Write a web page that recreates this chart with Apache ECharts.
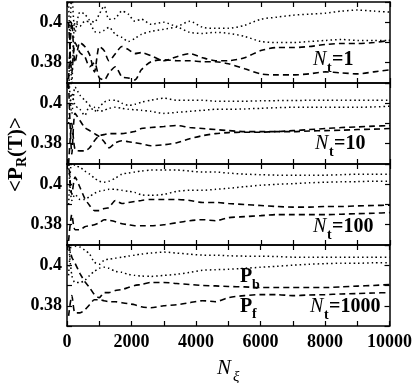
<!DOCTYPE html>
<html>
<head>
<meta charset="utf-8">
<script src="https://cdn.jsdelivr.net/npm/echarts@6/dist/echarts.min.js"></script>
<style>
  html, body { margin: 0; padding: 0; background: #fff; }
  #chart { width: 415px; height: 383px; }
</style>
</head>
<body>
<div id="chart"></div>
<script>
// N_xi sample positions shared by every curve
const X = [50, 150, 250, 400, 550, 700, 850, 1000, 1150, 1300, 1500, 1700, 1900, 2100, 2300, 2600,
  3000, 3400, 3800, 4200, 4600, 5000, 5500, 6000, 6500, 7000, 7500, 8000, 8500, 9000, 9500, 10000]

// Nt = 1
const nt1DotA = [0.36, 0.415, 0.395, 0.405, 0.404, 0.401, 0.400, 0.404, 0.408, 0.4015, 0.402, 0.4055, 0.404, 0.4005, 0.4015, 0.399,
  0.400, 0.398, 0.4005, 0.3975, 0.397, 0.397, 0.3985, 0.4015, 0.4025, 0.4035, 0.404, 0.4045, 0.4055, 0.406, 0.4055, 0.405]
const nt1DotB = [0.41, 0.37, 0.400, 0.398, 0.4005, 0.400, 0.3955, 0.395, 0.396, 0.3975, 0.394, 0.3925, 0.3905, 0.392, 0.394, 0.3955,
  0.3965, 0.3975, 0.395, 0.3945, 0.395, 0.3945, 0.393, 0.3905, 0.390, 0.390, 0.3905, 0.391, 0.3915, 0.391, 0.391, 0.391]
const nt1DashA = [0.372, 0.40, 0.38, 0.390, 0.388, 0.384, 0.3755, 0.388, 0.386, 0.381, 0.3845, 0.388, 0.3865, 0.3845, 0.385, 0.3835,
  0.381, 0.383, 0.3845, 0.3825, 0.381, 0.381, 0.3825, 0.386, 0.3875, 0.3875, 0.388, 0.389, 0.3895, 0.3895, 0.390, 0.391]
const nt1DashB = [0.40, 0.375, 0.39, 0.385, 0.383, 0.378, 0.380, 0.3725, 0.3715, 0.375, 0.378, 0.373, 0.3725, 0.3715, 0.3765, 0.3805,
  0.3815, 0.381, 0.381, 0.3805, 0.3805, 0.3795, 0.377, 0.3745, 0.374, 0.374, 0.3745, 0.3755, 0.375, 0.3745, 0.3755, 0.3765]

// Nt = 10
const nt10DotA = [0.415, 0.395, 0.408, 0.404, 0.4015, 0.399, 0.396, 0.398, 0.4005, 0.4015, 0.4015, 0.400, 0.399, 0.3995, 0.4005, 0.4015,
  0.4025, 0.4015, 0.4015, 0.4015, 0.401, 0.401, 0.401, 0.4012, 0.4013, 0.4013, 0.4015, 0.4015, 0.4015, 0.4015, 0.4015, 0.4015]
const nt10DotB = [0.39, 0.405, 0.399, 0.397, 0.394, 0.3985, 0.398, 0.396, 0.3965, 0.3975, 0.398, 0.3975, 0.397, 0.3968, 0.3965, 0.396,
  0.395, 0.3955, 0.396, 0.3965, 0.397, 0.397, 0.3972, 0.3975, 0.3978, 0.398, 0.398, 0.398, 0.398, 0.398, 0.3982, 0.3985]
const nt10DashA = [0.41, 0.375, 0.395, 0.3915, 0.388, 0.3865, 0.385, 0.3835, 0.381, 0.378, 0.3805, 0.3815, 0.381, 0.3805, 0.380, 0.379,
  0.3795, 0.3805, 0.3825, 0.384, 0.385, 0.3855, 0.3857, 0.3857, 0.386, 0.386, 0.3863, 0.3865, 0.3867, 0.387, 0.3872, 0.3875]
const nt10DashB = [0.37, 0.39, 0.377, 0.3765, 0.3765, 0.378, 0.3815, 0.384, 0.3845, 0.385, 0.385, 0.385, 0.3855, 0.386, 0.3875, 0.388,
  0.3885, 0.389, 0.388, 0.3875, 0.387, 0.3865, 0.386, 0.386, 0.386, 0.3865, 0.387, 0.3875, 0.388, 0.3883, 0.3887, 0.389]

// Nt = 100
const nt100DotA = [0.39, 0.412, 0.409, 0.4085, 0.4065, 0.405, 0.403, 0.4015, 0.401, 0.4015, 0.403, 0.405, 0.4055, 0.406, 0.4065, 0.407,
  0.407, 0.407, 0.4065, 0.406, 0.406, 0.4055, 0.405, 0.4047, 0.4045, 0.4045, 0.4045, 0.4045, 0.4047, 0.405, 0.405, 0.405]
const nt100DotB = [0.41, 0.392, 0.395, 0.3925, 0.3925, 0.394, 0.3955, 0.3965, 0.397, 0.3975, 0.3975, 0.397, 0.3965, 0.396, 0.3948, 0.3945,
  0.395, 0.3965, 0.397, 0.397, 0.3975, 0.398, 0.3988, 0.3995, 0.400, 0.4003, 0.4007, 0.401, 0.4012, 0.4013, 0.4015, 0.4015]
const nt100DashA = [0.412, 0.395, 0.4035, 0.3985, 0.393, 0.3895, 0.387, 0.387, 0.388, 0.3885, 0.392, 0.3905, 0.391, 0.3915, 0.392, 0.3925,
  0.3925, 0.3925, 0.392, 0.391, 0.391, 0.3905, 0.390, 0.3895, 0.389, 0.3887, 0.3887, 0.389, 0.389, 0.3893, 0.3895, 0.3897]
const nt100DashB = [0.372, 0.385, 0.3775, 0.3775, 0.379, 0.3795, 0.380, 0.381, 0.3825, 0.3822, 0.3815, 0.3805, 0.380, 0.3795, 0.3795, 0.3795,
  0.380, 0.381, 0.382, 0.3825, 0.382, 0.3835, 0.384, 0.3845, 0.385, 0.385, 0.385, 0.385, 0.3852, 0.3855, 0.3857, 0.386]

// Nt = 1000
const nt1000DotA = [0.395, 0.412, 0.4095, 0.409, 0.4075, 0.4055, 0.4015, 0.4005, 0.4025, 0.403, 0.4035, 0.404, 0.4045, 0.405, 0.4055, 0.406,
  0.4065, 0.406, 0.4055, 0.405, 0.405, 0.4047, 0.4045, 0.4045, 0.4043, 0.404, 0.404, 0.404, 0.404, 0.404, 0.404, 0.404]
const nt1000DotB = [0.41, 0.395, 0.3915, 0.3915, 0.3925, 0.395, 0.397, 0.3985, 0.399, 0.3985, 0.397, 0.3965, 0.3955, 0.395, 0.3947, 0.3945,
  0.395, 0.3955, 0.3965, 0.3975, 0.3978, 0.398, 0.3985, 0.399, 0.3995, 0.400, 0.4005, 0.4008, 0.401, 0.401, 0.4012, 0.4013]
const nt1000DashA = [0.41, 0.404, 0.401, 0.396, 0.392, 0.389, 0.3855, 0.384, 0.3865, 0.3865, 0.3875, 0.388, 0.389, 0.390, 0.3905, 0.3915,
  0.3915, 0.391, 0.3905, 0.390, 0.3898, 0.3895, 0.3893, 0.389, 0.389, 0.389, 0.389, 0.389, 0.3893, 0.3897, 0.390, 0.3905]
const nt1000DashB = [0.375, 0.385, 0.3765, 0.3765, 0.378, 0.3805, 0.383, 0.383, 0.3825, 0.382, 0.382, 0.3815, 0.381, 0.3805, 0.3795, 0.379,
  0.380, 0.3805, 0.3815, 0.3825, 0.382, 0.384, 0.385, 0.3855, 0.3855, 0.385, 0.3853, 0.3855, 0.3858, 0.386, 0.3863, 0.3865]

const panels = [
  { label: '1', dots: [nt1DotA, nt1DotB], dashes: [nt1DashA, nt1DashB] },
  { label: '10', dots: [nt10DotA, nt10DotB], dashes: [nt10DashA, nt10DashB] },
  { label: '100', dots: [nt100DotA, nt100DotB], dashes: [nt100DashA, nt100DashB] },
  { label: '1000', dots: [nt1000DotA, nt1000DotB], dashes: [nt1000DashA, nt1000DashB] },
]

const FONT = '"Liberation Serif", "Times New Roman", serif'
const GRID_TOPS = [2, 83, 164, 245]
const GRID_H = 81

const chart = echarts.init(document.getElementById('chart'))

const grids = []
const xAxes = []
const yAxes = []
const series = []

const axisLine = { show: true, onZero: false, lineStyle: { color: '#000', width: 1.5 } }
const axisTick = { show: true, inside: true, length: 5, lineStyle: { color: '#000', width: 1.2 } }

panels.forEach((p, i) => {
  grids.push({ left: 67, right: 25, top: GRID_TOPS[i], height: GRID_H })

  // bottom and top x axes (top one only draws the frame and ticks)
  xAxes.push({
    gridIndex: i, type: 'value', min: 0, max: 10000, interval: 1000,
    axisLine, axisTick, splitLine: { show: false },
    axisLabel: {
      show: i === panels.length - 1,
      color: '#000', fontFamily: FONT, fontWeight: 'bold', fontSize: 18, margin: 7,
      formatter: v => (v % 2000 === 0 ? String(v) : ''),
    },
  })
  xAxes.push({
    gridIndex: i, type: 'value', position: 'top', min: 0, max: 10000, interval: 1000,
    axisLine, axisTick, splitLine: { show: false }, axisLabel: { show: false },
  })

  yAxes.push({
    gridIndex: i, type: 'value', min: 0.37, max: 0.41, interval: 0.01,
    axisLine, axisTick, splitLine: { show: false },
    axisLabel: {
      color: '#000', fontFamily: FONT, fontWeight: 'bold', fontSize: 18, margin: 5,
      formatter: v => {
        if (Math.abs(v - 0.38) < 1e-6) return '0.38'
        if (Math.abs(v - 0.4) < 1e-6) return '0.4'
        return ''
      },
    },
  })
  yAxes.push({
    gridIndex: i, type: 'value', position: 'right', min: 0.37, max: 0.41, interval: 0.01,
    axisLine, axisTick, splitLine: { show: false }, axisLabel: { show: false },
  })

  const mk = (vals, dash) => ({
    type: 'line',
    xAxisIndex: 2 * i,
    yAxisIndex: 2 * i,
    data: X.map((x, k) => [x, vals[k]]),
    showSymbol: false,
    smooth: 0.25,
    silent: true,
    animation: false,
    lineStyle: dash
      ? { color: '#000', width: 1.6, type: [6, 4] }
      : { color: '#000', width: 1.5, type: [1.5, 3] },
  })
  p.dots.forEach(v => series.push(mk(v, false)))
  p.dashes.forEach(v => series.push(mk(v, true)))
})

// annotation text helpers
function txt(text, x, y, size, opts = {}) {
  return {
    type: 'text', x, y, silent: true,
    style: {
      text, fill: '#000', fontFamily: FONT, fontSize: size,
      fontWeight: opts.weight || 'bold', fontStyle: opts.style || 'normal',
      align: 'left', verticalAlign: 'middle',
    },
  }
}

const ntPos = [[313, 60], [315, 144], [313, 227], [310, 307]]
const graphics = []
panels.forEach((p, i) => {
  const [x, y] = ntPos[i]
  graphics.push(txt('N', x, y, 20, { style: 'italic', weight: 'normal' }))
  graphics.push(txt('t', x + 14, y + 8, 14))
  graphics.push(txt('=' + p.label, x + 19, y, 20))
})

// P_b / P_f labels in the last panel
graphics.push(txt('P', 240, 277, 20))
graphics.push(txt('b', 252, 285, 14))
graphics.push(txt('P', 240, 307, 20))
graphics.push(txt('f', 252, 314, 14))

// x axis title N_xi
graphics.push(txt('N', 217, 368, 21, { style: 'italic', weight: 'normal' }))
graphics.push(txt('ξ', 233, 377, 15, { style: 'italic', weight: 'normal' }))

// y axis title <P_R(T)>, rotated to read upwards
graphics.push({
  type: 'group', x: 6, y: 192, rotation: Math.PI / 2, silent: true,
  children: [
    { type: 'text', x: 0, y: 0, style: { text: '<P', fill: '#000', fontFamily: FONT, fontSize: 21, fontWeight: 'bold', verticalAlign: 'top' } },
    { type: 'text', x: 25, y: 9, style: { text: 'R', fill: '#000', fontFamily: FONT, fontSize: 14, fontWeight: 'bold', verticalAlign: 'top' } },
    { type: 'text', x: 35, y: 0, style: { text: '(T)>', fill: '#000', fontFamily: FONT, fontSize: 21, fontWeight: 'bold', verticalAlign: 'top' } },
  ],
})

chart.setOption({
  animation: false,
  backgroundColor: '#fff',
  grid: grids,
  xAxis: xAxes,
  yAxis: yAxes,
  series,
  graphic: graphics,
})
</script>
</body>
</html>
